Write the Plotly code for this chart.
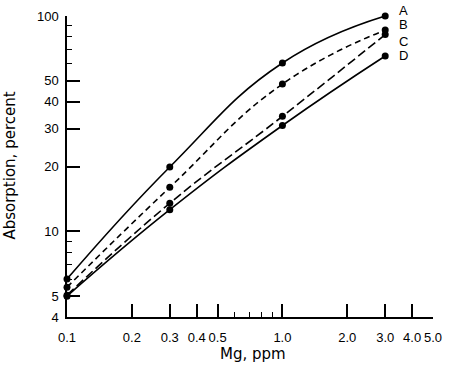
import math
import plotly.graph_objects as go

mg = [0.1, 0.3, 1.0, 3.0]
series_names = ["A", "B", "C", "D"]
a_vals = [6.0, 19.9, 60.5, 100]
b_vals = [5.5, 16.0, 48.3, 86]
c_vals = [5.05, 13.5, 34.2, 82]
d_vals = [5.0, 12.6, 31.0, 65.2]
label_y = [100, 91, 76.5, 65.5]
label_shift = [6, 0, 0, 0]

x_ticks = [0.1, 0.2, 0.3, 0.4, 0.5, 1.0, 2.0, 3.0, 4.0, 5.0]
x_ticktext = ["0.1", "0.2", "0.3", "0.4", "0.5", "1.0", "2.0", "3.0", "4.0", "5.0"]
x_minor = [0.6, 0.7, 0.8, 0.9]
y_ticks = [4, 5, 10, 20, 30, 40, 50, 100]
y_minor = [6, 7, 8, 9, 60, 70, 80, 90]

styles = {"A": "solid", "B": "6px,4px", "C": "9px,4px", "D": "solid"}
FONT = "Liberation Sans"
TFONT = "DejaVu Sans"

fig = go.Figure()
for name, vals in zip(series_names, [a_vals, b_vals, c_vals, d_vals]):
    fig.add_trace(go.Scatter(
        x=mg, y=vals, mode="lines+markers", name=name,
        line=dict(color="black", width=1.6, dash=styles[name], shape="spline", smoothing=1.3),
        marker=dict(color="black", size=7),
        showlegend=False, cliponaxis=False,
    ))

for name, ly, sh in zip(series_names, label_y, label_shift):
    fig.add_annotation(x=math.log10(3.65), y=math.log10(ly), text=name, showarrow=False,
                       xref="x", yref="y", yshift=sh,
                       font=dict(family=FONT, size=13, color="black"))

fig.add_annotation(x=0, xref="paper", xshift=-57, y=0.503, yref="paper",
                   xanchor="center", yanchor="middle",
                   text="Absorption, percent", textangle=-90, showarrow=False,
                   font=dict(family=TFONT, size=15, color="black"))
fig.add_annotation(x=0.508, xref="paper", y=0, yref="paper", yshift=-37,
                   xanchor="center", yanchor="middle",
                   text="Mg, ppm", showarrow=False,
                   font=dict(family=TFONT, size=15, color="black"))

fig.update_layout(
    width=450, height=375,
    margin=dict(l=67, r=17, t=16, b=58),
    plot_bgcolor="white", paper_bgcolor="white",
    font=dict(family=FONT, color="black"),
)
fig.update_xaxes(
    type="log", range=[-1, math.log10(5.0)], automargin=False,
    tickmode="array", tickvals=x_ticks, ticktext=x_ticktext,
    ticks="inside", ticklen=13, tickwidth=1.5, tickcolor="black",
    showline=True, linecolor="black", linewidth=1.5, showgrid=False, zeroline=False,
    tickfont=dict(size=13), ticklabelstandoff=8,
    minor=dict(tickmode="array", tickvals=x_minor, ticks="inside", ticklen=5,
               tickwidth=1.2, tickcolor="black", showgrid=False),
)
fig.update_yaxes(
    type="log", range=[math.log10(4), 2], automargin=False,
    tickmode="array", tickvals=y_ticks, ticktext=[str(v) for v in y_ticks],
    ticks="inside", ticklen=13, tickwidth=1.5, tickcolor="black",
    showline=True, linecolor="black", linewidth=1.5, showgrid=False, zeroline=False,
    tickfont=dict(size=13), ticklabelstandoff=4,
    minor=dict(tickmode="array", tickvals=y_minor, ticks="inside", ticklen=5,
               tickwidth=1.2, tickcolor="black", showgrid=False),
)

fig.write_html("out.html", config={"displayModeBar": False},
               post_script="document.body.style.margin='0';")
